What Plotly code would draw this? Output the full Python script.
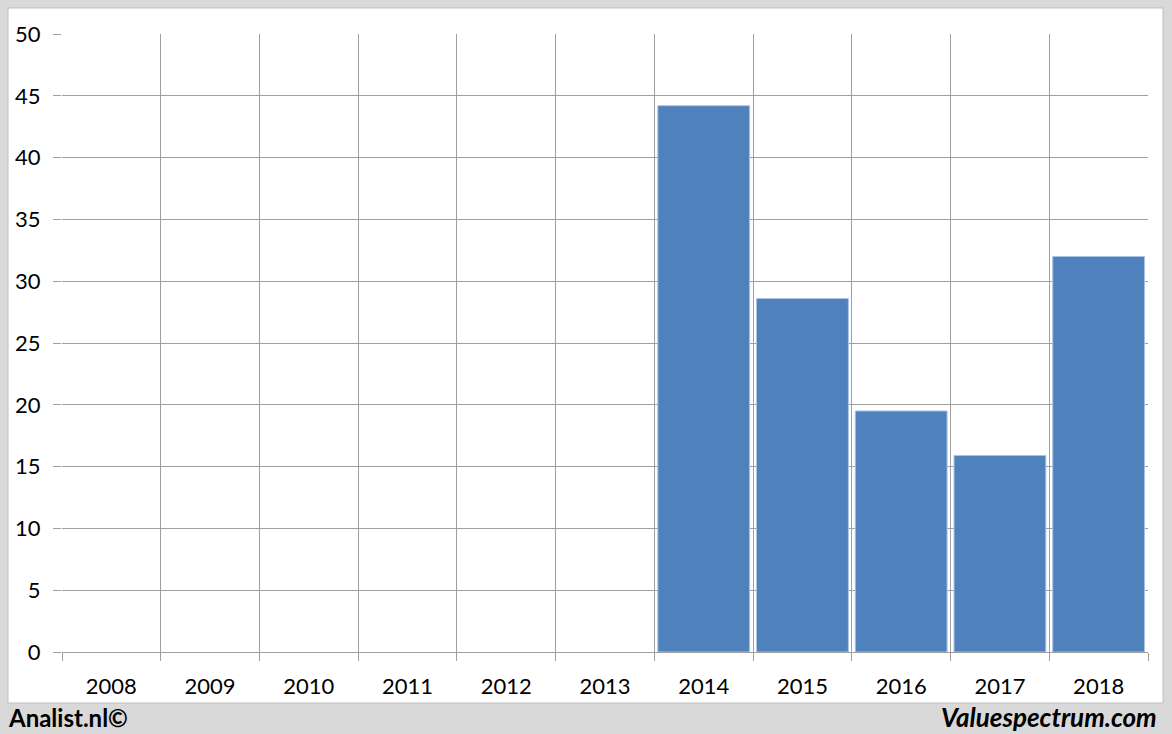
import plotly.graph_objects as go

years = ["2008", "2009", "2010", "2011", "2012", "2013", "2014", "2015", "2016", "2017", "2018"]
values = [None, None, None, None, None, None, 44.2, 28.6, 19.5, 15.9, 32.0]

W, H = 1172, 734
L, R, T, B = 62, 24, 34, 82

def px_x(p):
    return (p - L) / (W - L - R)

def px_y(p):
    return (H - B - p) / (H - T - B)

fig = go.Figure()
fig.add_trace(go.Bar(x=years, y=values, marker_color="#4f81bd",
                     marker_line_color="#a9c4e6", marker_line_width=1))

grid = "#9f9f9f"
font = "Lato, 'Open Sans', sans-serif"

fig.update_layout(
    width=W, height=H,
    margin=dict(l=L, r=R, t=T, b=B),
    paper_bgcolor="#d9d9d9",
    plot_bgcolor="white",
    bargap=0.07,
    showlegend=False,
    font=dict(family=font, size=20, color="black"),
    xaxis=dict(type="category", tickson="boundaries", showgrid=True,
               gridcolor=grid, gridwidth=1, ticks="outside", ticklen=8,
               tickcolor=grid, showline=False, ticklabelstandoff=19,
               tickfont=dict(size=22)),
    yaxis=dict(range=[0, 50], dtick=5, showgrid=True, gridcolor=grid,
               gridwidth=1, ticks="outside", ticklen=8, tickcolor=grid,
               zeroline=True, zerolinecolor=grid, zerolinewidth=1,
               ticklabelstandoff=8, tickfont=dict(size=22)),
    shapes=[
        dict(type="rect", xref="paper", yref="paper", layer="below",
             x0=px_x(8), x1=px_x(1163), y0=px_y(703), y1=px_y(8),
             fillcolor="white", line=dict(color="#bfbfbf", width=1)),
    ],
    annotations=[
        dict(text="<b>Analist.nl©</b>", xref="paper", yref="paper",
             x=px_x(6), y=px_y(717), xanchor="left", yanchor="middle",
             showarrow=False, font=dict(family=font, size=24, color="black")),
        dict(text="<b><i>Valuespectrum.com</i></b>", xref="paper", yref="paper",
             x=px_x(1159), y=px_y(717), xanchor="right", yanchor="middle",
             showarrow=False, font=dict(family=font, size=26, color="black")),
    ],
)

fig.write_html("out.html", config={"displayModeBar": False},
               post_script="document.body.style.margin='0';document.body.style.overflow='hidden';")
